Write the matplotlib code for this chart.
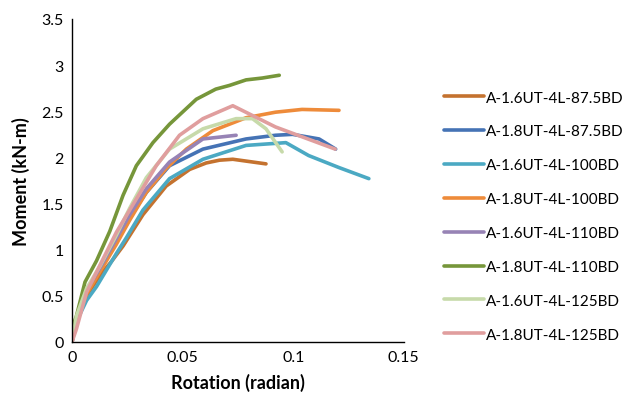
import matplotlib
matplotlib.use('Agg')
import matplotlib.pyplot as plt

plt.rcParams['font.family'] = ['Lato', 'DejaVu Sans']

# moment-rotation data, one pair of lists per specimen
x_16_875 = [0, 0.002, 0.0066, 0.0126, 0.0181, 0.0231, 0.0321, 0.0426, 0.0532, 0.0607, 0.0667, 0.0727, 0.0787, 0.0877]
y_16_875 = [0, 0.22, 0.50, 0.72, 0.88, 1.04, 1.38, 1.69, 1.87, 1.94, 1.97, 1.98, 1.96, 1.93]

x_18_875 = [0, 0.002, 0.0066, 0.0126, 0.0201, 0.0261, 0.0336, 0.0441, 0.0592, 0.0787, 0.092, 0.0997, 0.1117, 0.1192]
y_18_875 = [0, 0.25, 0.55, 0.78, 1.10, 1.35, 1.62, 1.91, 2.09, 2.20, 2.24, 2.25, 2.20, 2.09]

x_16_100 = [0, 0.002, 0.0066, 0.0111, 0.0156, 0.0201, 0.0246, 0.0321, 0.0441, 0.0592, 0.0787, 0.0967, 0.107, 0.1207, 0.1342]
y_16_100 = [0, 0.22, 0.45, 0.60, 0.78, 0.96, 1.13, 1.43, 1.77, 1.98, 2.13, 2.16, 2.02, 1.89, 1.77]

x_18_100 = [0, 0.002, 0.0066, 0.0126, 0.0201, 0.0261, 0.0336, 0.0426, 0.0517, 0.0637, 0.0787, 0.092, 0.104, 0.1207]
y_18_100 = [0, 0.24, 0.52, 0.76, 1.06, 1.32, 1.62, 1.88, 2.09, 2.29, 2.43, 2.49, 2.52, 2.51]

x_16_110 = [0, 0.002, 0.0066, 0.0126, 0.0201, 0.0261, 0.0336, 0.0441, 0.0592, 0.0742]
y_16_110 = [0, 0.26, 0.56, 0.80, 1.12, 1.38, 1.66, 1.95, 2.20, 2.24]

x_18_110 = [0, 0.002, 0.0059, 0.0111, 0.0171, 0.0231, 0.0291, 0.0366, 0.0441, 0.0562, 0.065, 0.0712, 0.0787, 0.086, 0.0937]
y_18_110 = [0.15, 0.28, 0.65, 0.88, 1.20, 1.59, 1.91, 2.16, 2.36, 2.63, 2.74, 2.78, 2.84, 2.86, 2.89]

x_16_125 = [0, 0.002, 0.0066, 0.0126, 0.0201, 0.0261, 0.0336, 0.0441, 0.0592, 0.0742, 0.0816, 0.0877, 0.095]
y_16_125 = [0, 0.28, 0.58, 0.82, 1.16, 1.45, 1.78, 2.09, 2.31, 2.42, 2.42, 2.31, 2.06]

x_18_125 = [0, 0.002, 0.0066, 0.0126, 0.0201, 0.0291, 0.0381, 0.0486, 0.0592, 0.0727, 0.092, 0.119]
y_18_125 = [0, 0.14, 0.54, 0.83, 1.19, 1.55, 1.91, 2.24, 2.42, 2.56, 2.33, 2.09]

labels = ['A-1.6UT-4L-87.5BD', 'A-1.8UT-4L-87.5BD', 'A-1.6UT-4L-100BD', 'A-1.8UT-4L-100BD',
          'A-1.6UT-4L-110BD', 'A-1.8UT-4L-110BD', 'A-1.6UT-4L-125BD', 'A-1.8UT-4L-125BD']
colors = ['#C4722F', '#4573B5', '#4BA9C3', '#EE8B3A', '#9783B5', '#76963A', '#C7DAAA', '#E09E9E']
xs = [x_16_875, x_18_875, x_16_100, x_18_100, x_16_110, x_18_110, x_16_125, x_18_125]
ys = [y_16_875, y_18_875, y_16_100, y_18_100, y_16_110, y_18_110, y_16_125, y_18_125]

fig = plt.figure(figsize=(6.28, 4.02), dpi=100)
ax = fig.add_axes([0.1146, 0.1468, 0.5284, 0.8035])

for x, y, c, lab in zip(xs, ys, colors, labels):
    ax.plot(x, y, color=c, lw=2.6, label=lab, solid_capstyle='round', solid_joinstyle='round')

ax.set_xlim(0, 0.15)
ax.set_ylim(0, 3.5)
ax.set_xticks([0, 0.05, 0.1, 0.15])
ax.set_xticklabels(['0', '0.05', '0.1', '0.15'])
ax.set_yticks([0, 0.5, 1, 1.5, 2, 2.5, 3, 3.5])
ax.set_yticklabels(['0', '0.5', '1', '1.5', '2', '2.5', '3', '3.5'])
ax.tick_params(length=0, labelsize=11.5, pad=6)
for s in ['top', 'right']:
    ax.spines[s].set_visible(False)
for s in ['left', 'bottom']:
    ax.spines[s].set_linewidth(1.0)

ax.set_xlabel('Rotation (radian)', fontsize=13, fontweight='bold', labelpad=6)
ax.set_ylabel('Moment (kN-m)', fontsize=13, fontweight='bold', labelpad=8)

fig.legend(loc='center left', bbox_to_anchor=(0.695, 0.46), frameon=False, fontsize=11,
           handlelength=2.6, handletextpad=0.15, labelspacing=1.3, borderpad=0)

fig.savefig('out.png', dpi=100)
